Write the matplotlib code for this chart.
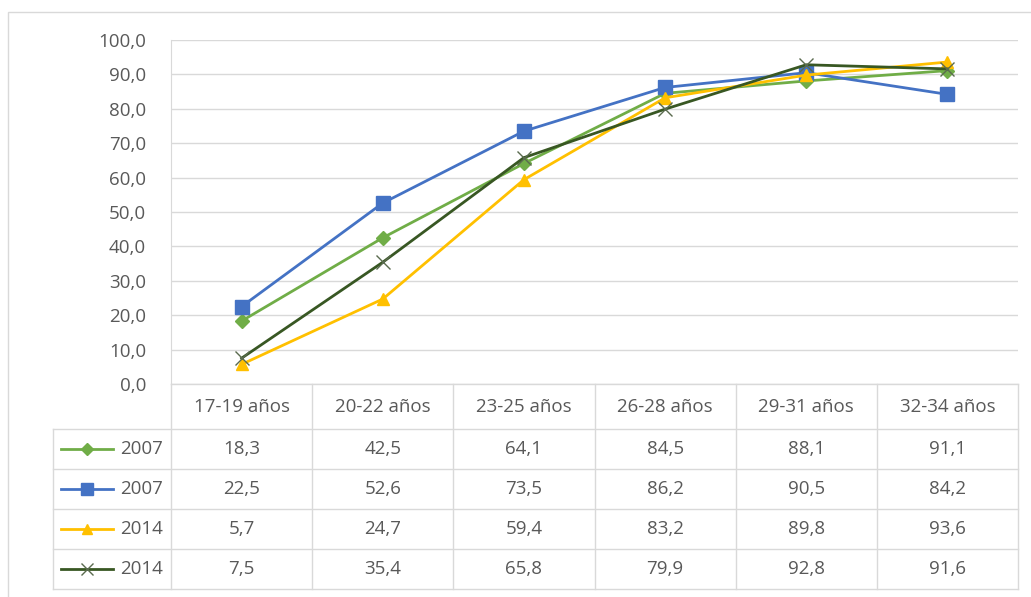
import matplotlib.pyplot as plt
from matplotlib.patches import Rectangle
from matplotlib.lines import Line2D
import matplotlib.transforms as mtransforms

categories = ["17-19 años", "20-22 años", "23-25 años", "26-28 años", "29-31 años", "32-34 años"]
series_names = ["2007", "2007", "2014", "2014"]
green_2007 = [18.3, 42.5, 64.1, 84.5, 88.1, 91.1]
blue_2007 = [22.5, 52.6, 73.5, 86.2, 90.5, 84.2]
gold_2014 = [5.7, 24.7, 59.4, 83.2, 89.8, 93.6]
dark_2014 = [7.5, 35.4, 65.8, 79.9, 92.8, 91.6]
y_ticks = [0, 10, 20, 30, 40, 50, 60, 70, 80, 90, 100]

plt.rcParams["font.family"] = ["Open Sans", "DejaVu Sans"]
text_color = "#595959"
grid_color = "#D9D9D9"
fs = 13.5

styles = [
    dict(color="#70AD47", marker="D", markersize=7, lw=2),
    dict(color="#4472C4", marker="s", markersize=10, lw=2),
    dict(color="#FFC000", marker="^", markersize=9, lw=2),
    dict(color="#385723", marker="x", markersize=10, lw=2, mew=1.0, mec="#5a6b4f"),
]
all_series = [green_2007, blue_2007, gold_2014, dark_2014]

fig = plt.figure(figsize=(10.31, 5.97), dpi=100)
W, H = 1031, 597

# outer frame
fig.patches.append(Rectangle((8 / W, -0.1), 1.2, 1 - 12 / H + 0.1, transform=fig.transFigure,
                             fill=False, ec=grid_color, lw=1))

ax = fig.add_axes([171 / W, 1 - 384 / H, (1018 - 171) / W, (384 - 40) / H])
ax.set_xlim(0, 6)
ax.set_ylim(0, 100)
ax.set_yticks(y_ticks)
ax.set_yticklabels([f"{v:.1f}".replace(".", ",") for v in y_ticks], color=text_color, fontsize=fs)
ax.tick_params(axis="y", length=0, pad=18)
ax.set_xticks([])
for s in ["top", "right", "bottom"]:
    ax.spines[s].set_visible(False)
ax.spines["left"].set_color(grid_color)
ax.grid(axis="y", color=grid_color, lw=1)
ax.set_axisbelow(True)

xs = [i + 0.5 for i in range(len(categories))]
for vals, st in zip(all_series, styles):
    ax.plot(xs, vals, clip_on=False, zorder=3, **st)

# data table below the axes
trans = mtransforms.blended_transform_factory(ax.transData, fig.transFigure)
row_edges = [384, 429, 469, 509, 549, 589]
fy = [1 - r / H for r in row_edges]


def px_to_x(px):
    return (px - 171) / (1018 - 171) * 6


x_leg = px_to_x(53)
line_kw = dict(color=grid_color, lw=1, clip_on=False, transform=trans)
for i, y in enumerate(fy):
    x0 = 0 if i == 0 else x_leg
    fig.add_artist(Line2D([x0, 6], [y, y], **line_kw))
for c in range(7):
    fig.add_artist(Line2D([c, c], [fy[0], fy[-1]], **line_kw))
fig.add_artist(Line2D([x_leg, x_leg], [fy[1], fy[-1]], **line_kw))

for c, cat in enumerate(categories):
    fig.text(c + 0.5, (fy[0] + fy[1]) / 2, cat, transform=trans, ha="center", va="center",
             color=text_color, fontsize=fs)

for r, (vals, st, name) in enumerate(zip(all_series, styles, series_names)):
    yc = (fy[r + 1] + fy[r + 2]) / 2
    for c, v in enumerate(vals):
        fig.text(c + 0.5, yc, f"{v:.1f}".replace(".", ","), transform=trans, ha="center",
                 va="center", color=text_color, fontsize=fs)
    # legend key
    x_a, x_b = px_to_x(61), px_to_x(113)
    key = {k: v for k, v in st.items() if k != "lw"}
    key["markersize"] = st["markersize"] * 0.85
    fig.add_artist(Line2D([x_a, x_b], [yc, yc], transform=trans, clip_on=False,
                          color=st["color"], lw=st["lw"]))
    fig.add_artist(Line2D([(x_a + x_b) / 2], [yc], transform=trans, clip_on=False, ls="none", **key))
    fig.text(px_to_x(163), yc, name, transform=trans, ha="right", va="center",
             color=text_color, fontsize=fs)

fig.savefig("out.png", dpi=100)
